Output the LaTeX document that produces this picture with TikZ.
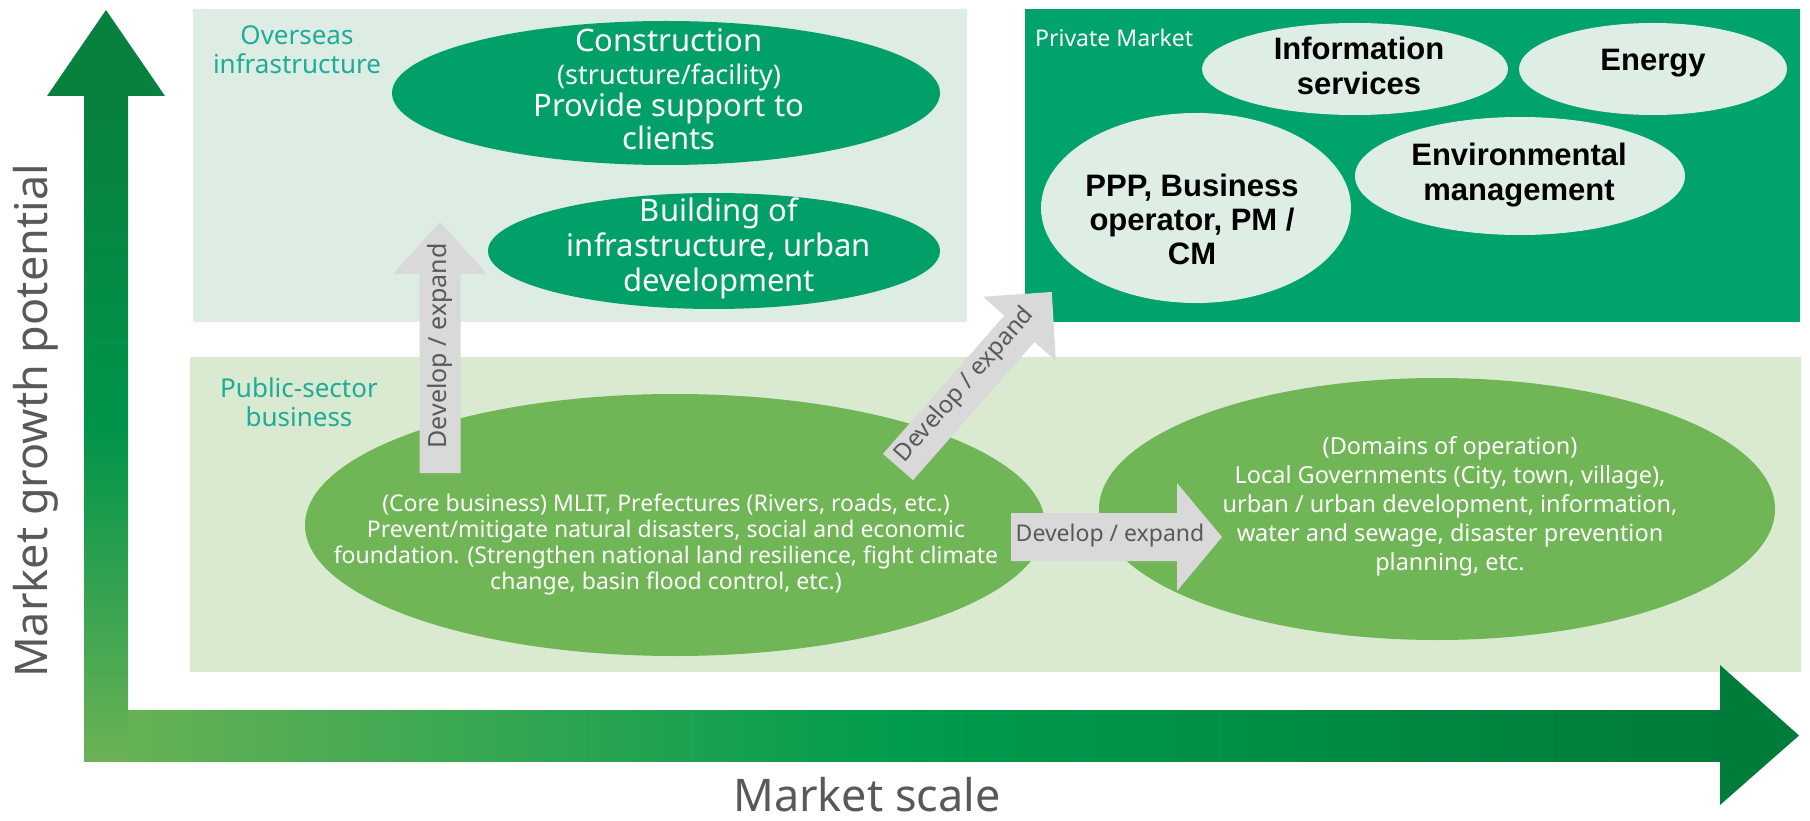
\documentclass[tikz,border=0pt]{standalone}
\usepackage{fontspec}
\setmainfont{Noto Sans}
\newfontfamily\bfam{Liberation Sans}
\usetikzlibrary{shapes.geometric}
\definecolor{osbg}{RGB}{221,237,227}
\definecolor{pubbg}{RGB}{218,234,209}
\definecolor{pmgreen}{RGB}{0,163,108}
\definecolor{ellteal}{RGB}{0,160,104}
\definecolor{elllight}{RGB}{222,238,228}
\definecolor{ellgreen}{RGB}{112,181,86}
\definecolor{arrgray}{RGB}{217,217,217}
\definecolor{txtgray}{RGB}{89,89,89}
\definecolor{labteal}{RGB}{30,172,152}
\definecolor{axdark}{RGB}{8,128,62}
\definecolor{axmid}{RGB}{0,148,74}
\definecolor{axlight}{RGB}{108,178,86}
\definecolor{axdarkh}{RGB}{0,124,58}
\definecolor{axmidh}{RGB}{0,156,78}
\newcommand{\FSz}[2]{\fontsize{#1}{#2}\selectfont}
% tail x, tail y, angle, length, shaft half, head half, head length
\newcommand{\GArrow}[7]{%
  \begin{scope}[shift={(#1,#2)},rotate=#3]
    \fill[arrgray] (0,-#5) -- (#4-#7,-#5) -- (#4-#7,-#6) -- (#4,0) -- (#4-#7,#6) -- (#4-#7,#5) -- (0,#5) -- cycle;
  \end{scope}}
\tikzset{
  ell/.style={ellipse, inner sep=0pt, draw=none},
  wtxt/.style={text=white, align=center, inner sep=0pt},
  btxt/.style={text=black, align=center, inner sep=0pt, font=\bfam\bfseries\FSz{31}{35}},
  grp/.style={text=labteal, align=center, inner sep=0pt, font=\FSz{26}{29}},
  devtxt/.style={text=txtgray, inner sep=0pt, font=\FSz{24}{28}},
  axtxt/.style={text=txtgray, inner sep=0pt, font=\FSz{45}{54}}
}
\begin{document}
\begin{tikzpicture}[x=1pt,y=-1pt]
\useasboundingbox (0,0) rectangle (1810,821);
\fill[white] (0,0) rectangle (1810,821);

% group boxes
\fill[osbg] (193,9) rectangle (967,322);
\fill[pmgreen] (1025,9) rectangle (1800,322);
\fill[pubbg] (190,357) rectangle (1801,672);

% group labels
\node[grp] (lOver) at (297,50) {Overseas\\infrastructure};
\node[grp] (lPub) at (299,402) {Public-sector\\business};
\node[text=white, anchor=west, inner sep=0pt, font=\FSz{23}{28}] (lPriv) at (1035,38) {Private Market};

% overseas ellipses
\node[ell, fill=ellteal, minimum width=548, minimum height=144] (eCons) at (666,93) {};
\node[wtxt, font=\FSz{31}{32.5}] (tCons) at (669,89) {Construction\\{\FSz{27}{32.5}(structure/facility)}\\Provide support to\\clients};
\node[ell, fill=ellteal, minimum width=452, minimum height=116] (eBuild) at (714,251) {};
\node[wtxt, font=\FSz{31}{35}] (tBuild) at (719,248) {Building of\\infrastructure, urban\\development};

% private market ellipses
\node[ell, fill=elllight, minimum width=306, minimum height=92] (eInfo) at (1355,69) {};
\node[btxt] (tInfo) at (1359,66) {Information\\services};
\node[ell, fill=elllight, minimum width=268, minimum height=92] (eEnergy) at (1653,69) {};
\node[btxt] (tEnergy) at (1653,63) {Energy};
\node[ell, fill=elllight, minimum width=330, minimum height=118] (eEnv) at (1520,176) {};
\node[btxt] (tEnv) at (1519,175) {Environmental\\management};
\node[ell, fill=elllight, minimum width=310, minimum height=190] (ePPP) at (1196,208) {};
\node[btxt, font=\bfam\bfseries\FSz{31}{34}] (tPPP) at (1192,219) {PPP, Business\\operator, PM /\\CM};

% public-sector ellipses
\node[ell, fill=ellgreen, minimum width=740, minimum height=262] (eCore) at (675,525) {};
\node[wtxt, font=\FSz{23}{26}] (tCore) at (666,544) {(Core business) MLIT, Prefectures (Rivers, roads, etc.)\\Prevent/mitigate natural disasters, social and economic\\foundation. (Strengthen national land resilience, fight climate\\change, basin flood control, etc.)};
\node[ell, fill=ellgreen, minimum width=676, minimum height=262] (eDom) at (1437,509) {};
\node[wtxt, font=\FSz{23.5}{29}] (tDom) at (1450,506) {(Domains of operation)\\Local Governments (City, town, village),\\urban / urban development, information,\\water and sewage, disaster prevention\\planning, etc.};

% grey develop/expand arrows
\GArrow{440}{473}{90}{251}{20.5}{47}{52}
\node[devtxt, rotate=90, font=\FSz{25}{28}] (dUp) at (440,346) {Develop / expand};
\GArrow{898}{467}{48.7}{233}{20}{48.5}{49}
\node[devtxt, rotate=48.7] (dDiag) at (965,385) {Develop / expand};
\GArrow{1011}{537}{0}{211}{24}{54}{45}
\node[devtxt, font=\FSz{23}{28}] (dRight) at (1110,536) {Develop / expand};

% axes
\shade[left color=axlight, right color=axdarkh, middle color=axmidh] (84,710) rectangle (1720,761);
\shade[top color=axdark, bottom color=axlight, middle color=axmid] (84,96) rectangle (128,761);
\fill[axdark] (47,96) -- (106,10) -- (165,96) -- cycle;
\fill[axdarkh] (1720,665) -- (1799,735.5) -- (1720,805) -- cycle;
\node[axtxt, rotate=90] (yLab) at (36,421) {Market growth potential};
\node[axtxt, anchor=base] (xLab) at (867,811) {Market scale};
\end{tikzpicture}
\end{document}
